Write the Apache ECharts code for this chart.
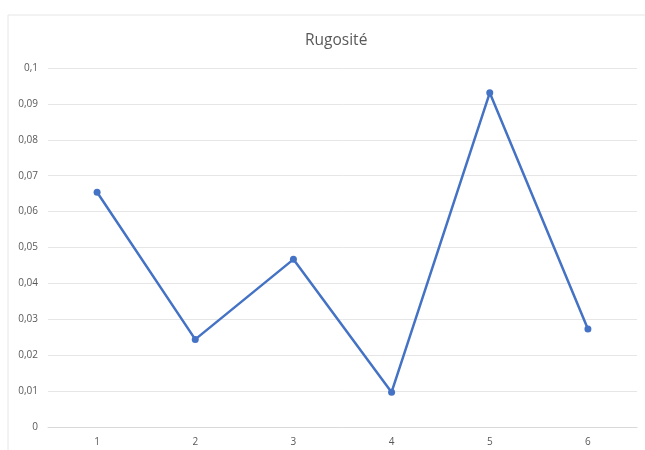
<!DOCTYPE html>
<html>
<head>
<meta charset="utf-8">
<script src="https://cdn.jsdelivr.net/npm/echarts@6/dist/echarts.min.js"></script>
<style>html,body{margin:0;padding:0;background:#fff;}#c{width:645px;height:450px;}</style>
</head>
<body>
<div id="c"></div>
<script>
const categories = ['1', '2', '3', '4', '5', '6'];
const rugosite = [0.0654, 0.0244, 0.0467, 0.0097, 0.0931, 0.0273];
const chart = echarts.init(document.getElementById('c'));
chart.setOption({
  animation: false,
  backgroundColor: '#fff',
  title: {
    text: 'Rugosité', left: 300, top: 28,
    textStyle: { fontFamily: 'Open Sans', fontSize: 15.5, fontWeight: 'normal', color: '#595959' }
  },
  graphic: [{
    type: 'rect', shape: { x: 8, y: 15, width: 700, height: 500 },
    style: { fill: 'none', stroke: '#e6e6e6', lineWidth: 1 }, silent: true
  }],
  grid: { left: 48, right: 8, top: 68, bottom: 23 },
  xAxis: {
    type: 'category', data: categories, boundaryGap: true,
    axisLine: { show: true, lineStyle: { color: '#d9d9d9' } },
    axisTick: { show: false },
    axisLabel: { color: '#595959', fontSize: 10, fontFamily: 'Open Sans', margin: 10 }
  },
  yAxis: {
    type: 'value', min: 0, max: 0.1, interval: 0.01,
    axisLine: { show: false }, axisTick: { show: false },
    splitLine: { lineStyle: { color: '#e6e6e6' } },
    axisLabel: {
      color: '#595959', fontSize: 10, fontFamily: 'Open Sans', margin: 10,
      formatter: v => String(Math.round(v * 100) / 100).replace('.', ',')
    }
  },
  series: [{
    type: 'line', data: rugosite,
    symbol: 'circle', symbolSize: 7,
    lineStyle: { color: '#4472C4', width: 2.5 },
    itemStyle: { color: '#4472C4' }
  }]
});
</script>
</body>
</html>
